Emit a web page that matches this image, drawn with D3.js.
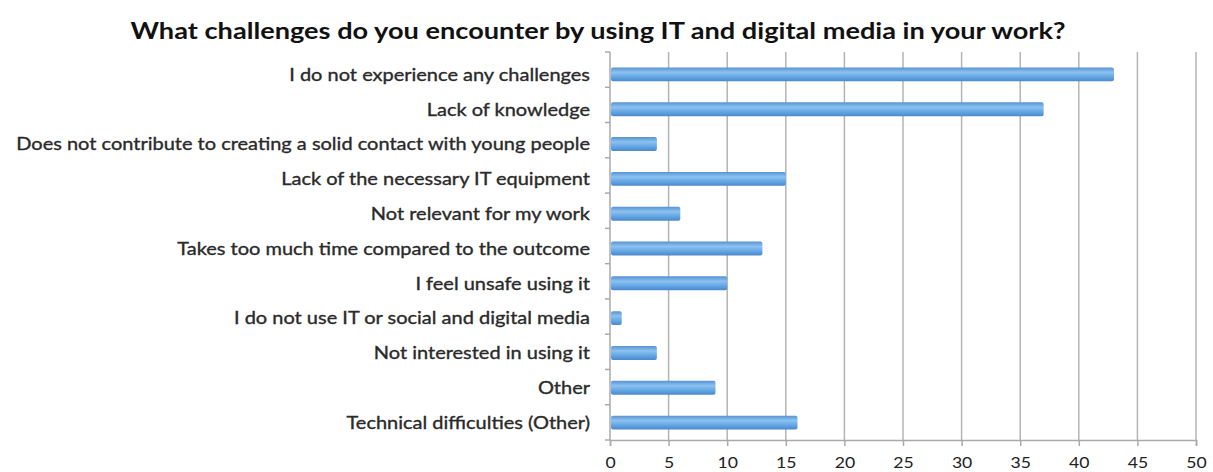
<!DOCTYPE html>
<html>
<head>
<meta charset="utf-8">
<script src="https://cdn.jsdelivr.net/npm/d3@7"></script>
<style>
  body { margin: 0; background: #fff; }
  svg { display: block; font-family: Lato, "Open Sans", sans-serif; }
</style>
</head>
<body>
<svg width="1213" height="472"></svg>
<script>
const W = 1213, H = 472;
const margin = {top: 57, right: 17, bottom: 32, left: 610};
const STRETCH = 1.11;

// data
const categories = [
    'I do not experience any challenges',
    'Lack of knowledge',
    'Does not contribute to creating a solid contact with young people',
    'Lack of the necessary IT equipment',
    'Not relevant for my work',
    'Takes too much time compared to the outcome',
    'I feel unsafe using it',
    'I do not use IT or social and digital media',
    'Not interested in using it',
    'Other',
    'Technical difficulties (Other)'
];
const values = [43, 37, 4, 15, 6, 13, 10, 1, 4, 9, 16];
const xTicks = [0, 5, 10, 15, 20, 25, 30, 35, 40, 45, 50];
const title = 'What challenges do you encounter by using IT and digital media in your work?';

const svg = d3.select('svg');

// градиент для полос
const defs = svg.append('defs');
const grad = defs.append('linearGradient')
    .attr('id', 'barGrad')
    .attr('x1', 0).attr('y1', 0).attr('x2', 0).attr('y2', 1);
grad.append('stop').attr('offset', '0%').attr('stop-color', '#5792d3');
grad.append('stop').attr('offset', '35%').attr('stop-color', '#8cc2f0');
grad.append('stop').attr('offset', '70%').attr('stop-color', '#62a5e4');
grad.append('stop').attr('offset', '100%').attr('stop-color', '#4b88cb');

const x = d3.scaleLinear()
    .domain([0, 50])
    .range([margin.left, W - margin.right]);
const y = d3.scaleBand()
    .domain(categories)
    .range([margin.top, H - margin.bottom])
    .paddingInner(0.6)
    .paddingOuter(0.3);

const plotTop = margin.top - 5, plotBottom = H - margin.bottom;

// растянуть текст по горизонтали (картинка была растянута)
function stretch(sel, k) {
    sel.each(function () {
        const w = this.getComputedTextLength();
        d3.select(this)
            .attr('textLength', w * k)
            .attr('lengthAdjust', 'spacingAndGlyphs');
    });
}

// title
svg.append('text')
    .attr('x', 598)
    .attr('y', 39)
    .attr('text-anchor', 'middle')
    .attr('font-size', 23)
    .attr('font-weight', 'bold')
    .attr('fill', '#111')
    .text(title)
    .call(function (t) {
        t.attr('textLength', 935).attr('lengthAdjust', 'spacingAndGlyphs');
    });

// gridlines
svg.append('g')
    .selectAll('line')
    .data(xTicks.slice(1))
    .join('line')
    .attr('x1', d => x(d)).attr('x2', d => x(d))
    .attr('y1', plotTop).attr('y2', plotBottom)
    .attr('stroke', '#b4b4b4')
    .attr('stroke-width', 1.5);

// bottom axis
const xAxis = d3.axisBottom(x)
    .tickValues(xTicks)
    .tickSize(6)
    .tickPadding(11);
const gx = svg.append('g')
    .attr('transform', `translate(0,${plotBottom})`)
    .call(xAxis);
gx.select('.domain').attr('stroke', '#aaa').attr('stroke-width', 1.5);
gx.selectAll('.tick line').attr('stroke', '#aaa').attr('stroke-width', 1.5);
gx.selectAll('.tick text')
    .attr('font-size', 16)
    .attr('font-family', 'Lato, sans-serif')
    .attr('fill', '#222')
    .call(stretch, 1.1);

// left axis (ticks between categories)
const gy = svg.append('g');
gy.append('line')
    .attr('x1', margin.left).attr('x2', margin.left)
    .attr('y1', plotTop).attr('y2', plotBottom)
    .attr('stroke', '#aaa').attr('stroke-width', 1.5);
const bounds = d3.range(categories.length + 1).map(i => plotTop + i * (plotBottom - plotTop) / categories.length);
gy.selectAll('line.tk')
    .data(bounds)
    .join('line')
    .attr('class', 'tk')
    .attr('x1', margin.left - 5).attr('x2', margin.left)
    .attr('y1', d => d).attr('y2', d => d)
    .attr('stroke', '#aaa').attr('stroke-width', 1.5);

// category labels
svg.append('g')
    .selectAll('text')
    .data(categories)
    .join('text')
    .attr('x', margin.left - 20)
    .attr('y', d => y(d) + y.bandwidth() / 2)
    .attr('dy', '0.35em')
    .attr('text-anchor', 'end')
    .attr('font-size', 18)
    .attr('fill', '#2a2a2a')
    .attr('stroke', '#2a2a2a')
    .attr('stroke-width', 0.35)
    .text(d => d)
    .call(stretch, STRETCH);

// bars
svg.append('g')
    .selectAll('rect')
    .data(values)
    .join('rect')
    .attr('x', x(0) + 1)
    .attr('y', (d, i) => y(categories[i]))
    .attr('width', d => x(d) - x(0) - 1)
    .attr('height', y.bandwidth())
    .attr('rx', 2)
    .attr('fill', 'url(#barGrad)');
</script>
</body>
</html>
